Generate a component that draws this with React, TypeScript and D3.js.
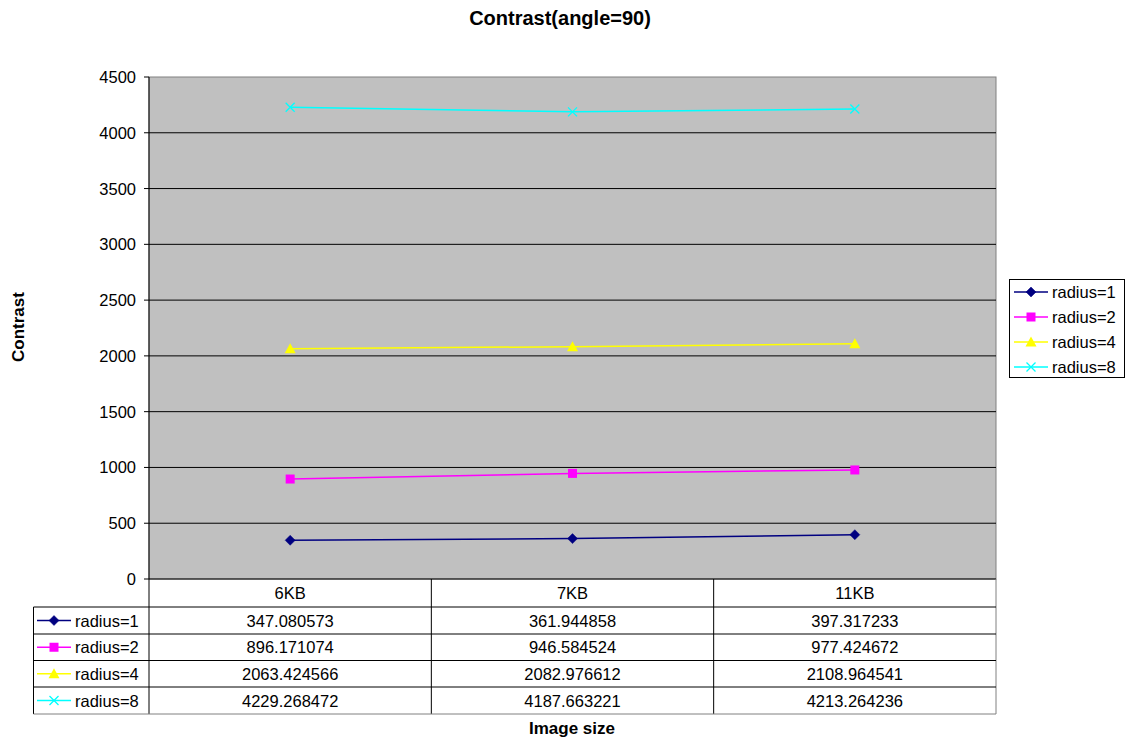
import React from "react";
import * as d3 from "d3";

const categories = ["6KB", "7KB", "11KB"];
const seriesNames = ["radius=1", "radius=2", "radius=4", "radius=8"];
const r1 = [347.080573, 361.944858, 397.317233];
const r2 = [896.171074, 946.584524, 977.424672];
const r4 = [2063.424566, 2082.976612, 2108.964541];
const r8 = [4229.268472, 4187.663221, 4213.264236];
const r1Labels = ["347.080573", "361.944858", "397.317233"];
const r2Labels = ["896.171074", "946.584524", "977.424672"];
const r4Labels = ["2063.424566", "2082.976612", "2108.964541"];
const r8Labels = ["4229.268472", "4187.663221", "4213.264236"];
const yTicks = [0, 500, 1000, 1500, 2000, 2500, 3000, 3500, 4000, 4500];
const colors = ["#000080", "#FF00FF", "#FFFF00", "#00FFFF"];
const markers = ["diamond", "square", "triangle", "x"];

const FONT = "'Liberation Sans', Arial, sans-serif";

function Marker({ type, x, y, color }: { type: string; x: number; y: number; color: string }) {
  if (type === "diamond") {
    const s = 5;
    return <path d={`M${x},${y - s}L${x + s},${y}L${x},${y + s}L${x - s},${y}Z`} fill={color} stroke={color} strokeWidth={0.5} />;
  }
  if (type === "square") {
    return <rect x={x - 4.5} y={y - 4.5} width={9} height={9} fill={color} />;
  }
  if (type === "triangle") {
    return <path d={`M${x},${y - 5.5}L${x + 5.5},${y + 4.5}L${x - 5.5},${y + 4.5}Z`} fill={color} />;
  }
  const s = 4.5;
  return <path d={`M${x - s},${y - s}L${x + s},${y + s}M${x - s},${y + s}L${x + s},${y - s}`} stroke={color} strokeWidth={1.3} fill="none" />;
}

export default function App() {
  const W = 1131, H = 741;
  const left = 149, right = 996, top = 77, bottom = 579;
  const series = [r1, r2, r4, r8];
  const labels = [r1Labels, r2Labels, r4Labels, r8Labels];

  const y = d3.scaleLinear().domain([0, 4500]).range([bottom, top]);
  const xb = d3.scaleBand().domain(categories).range([left, right]);
  const cx = (c: string) => (xb(c) as number) + xb.bandwidth() / 2;

  const line = d3.line<number>().x((_, i) => cx(categories[i])).y((v) => y(v));

  const tableLeft = 33.5;
  const rowEdges = [579, 607, 634, 660.5, 687, 714];
  const fs = 16.5;

  return (
    <svg width={W} height={H} style={{ position: "absolute", left: 0, top: 0, background: "#fff" }} fontFamily={FONT}>
      <rect x={0} y={0} width={W} height={H} fill="#fff" />
      <text x={560} y={25} textAnchor="middle" fontSize={20} fontWeight="bold">Contrast(angle=90)</text>

      <rect x={left} y={top} width={right - left} height={bottom - top} fill="#C0C0C0" stroke="#808080" strokeWidth={1} />
      {yTicks.map((t) => (
        <g key={t}>
          {t > 0 && t < 4500 && <line x1={left} x2={right} y1={y(t)} y2={y(t)} stroke="#000" strokeWidth={1} />}
          <line x1={left - 5} x2={left} y1={y(t)} y2={y(t)} stroke="#000" />
          <text x={left - 13} y={y(t) + 6} textAnchor="end" fontSize={fs}>{t}</text>
        </g>
      ))}
      <line x1={left} x2={left} y1={top} y2={bottom} stroke="#000" />
      <line x1={left} x2={right} y1={bottom} y2={bottom} stroke="#000" />

      {series.map((s, si) => (
        <g key={si}>
          <path d={line(s) as string} fill="none" stroke={colors[si]} strokeWidth={1.5} />
          {s.map((v, i) => (
            <Marker key={i} type={markers[si]} x={cx(categories[i])} y={y(v)} color={colors[si]} />
          ))}
        </g>
      ))}

      {/* data table */}
      <g>
        {categories.map((c) => (
          <text key={c} x={cx(c)} y={(rowEdges[0] + rowEdges[1]) / 2 + 6} textAnchor="middle" fontSize={fs}>{c}</text>
        ))}
        {[left, ...categories.map((c) => (xb(c) as number) + xb.bandwidth())].map((xv, i) => (
          <line key={i} x1={xv} x2={xv} y1={rowEdges[0]} y2={rowEdges[5]} stroke={i === 3 ? "#808080" : "#000"} />
        ))}
        <line x1={tableLeft} x2={tableLeft} y1={rowEdges[1]} y2={rowEdges[5]} stroke="#000" />
        {rowEdges.slice(1).map((ry, i) => (
          <line key={i} x1={tableLeft} x2={right} y1={ry} y2={ry} stroke={i === 4 ? "#808080" : "#000"} />
        ))}
        {seriesNames.map((n, si) => {
          const ry = (rowEdges[si + 1] + rowEdges[si + 2]) / 2;
          return (
            <g key={n}>
              <line x1={37} x2={71} y1={ry} y2={ry} stroke={colors[si]} strokeWidth={1.5} />
              <Marker type={markers[si]} x={54} y={ry} color={colors[si]} />
              <text x={75} y={ry + 6} fontSize={fs}>{n}</text>
              {labels[si].map((l, i) => (
                <text key={i} x={cx(categories[i])} y={ry + 6} textAnchor="middle" fontSize={fs}>{l}</text>
              ))}
            </g>
          );
        })}
      </g>

      <text x={572} y={734} textAnchor="middle" fontSize={17} fontWeight="bold">Image size</text>
      <text transform={`translate(24,327) rotate(-90)`} textAnchor="middle" fontSize={17} fontWeight="bold">Contrast</text>

      {/* legend */}
      <rect x={1009.5} y={279.5} width={115} height={98} fill="#fff" stroke="#000" />
      {seriesNames.map((n, si) => {
        const ly = 292 + si * 25;
        return (
          <g key={n}>
            <line x1={1014} x2={1048} y1={ly} y2={ly} stroke={colors[si]} strokeWidth={1.5} />
            <Marker type={markers[si]} x={1031} y={ly} color={colors[si]} />
            <text x={1052} y={ly + 6} fontSize={fs}>{n}</text>
          </g>
        );
      })}
    </svg>
  );
}
